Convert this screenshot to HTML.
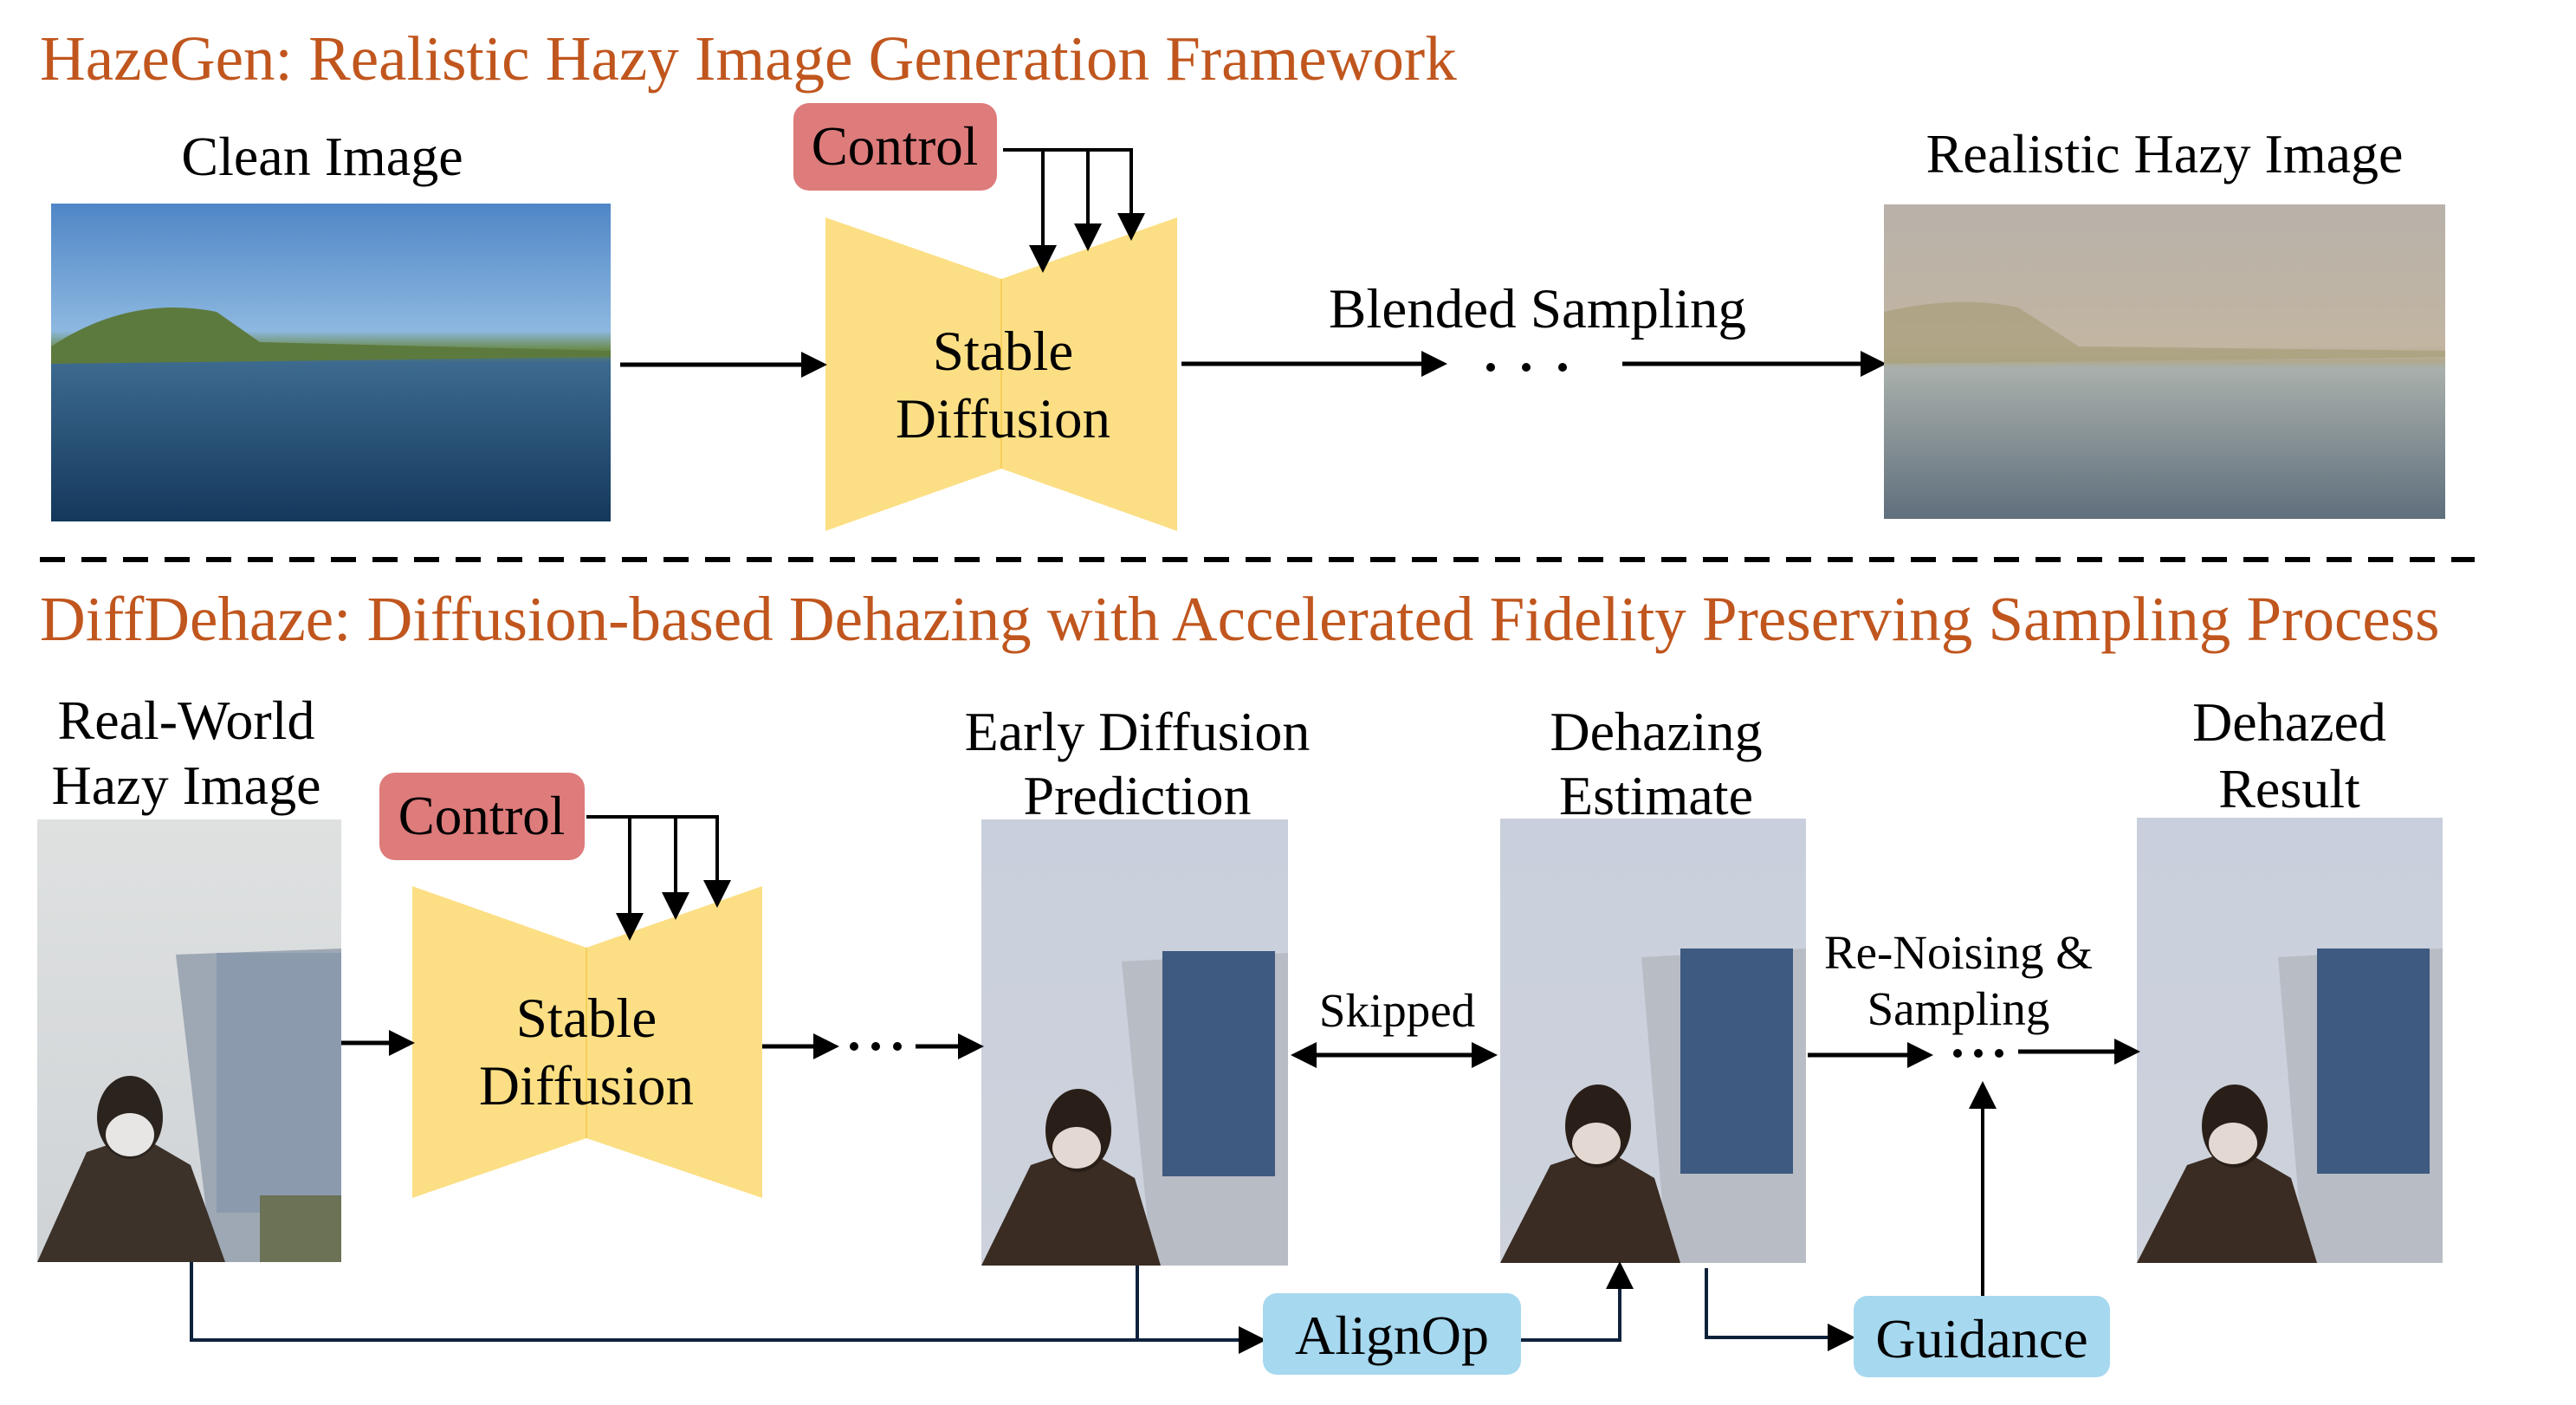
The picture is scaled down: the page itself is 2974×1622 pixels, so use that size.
<!DOCTYPE html>
<html><head><meta charset="utf-8"><style>
html,body{margin:0;padding:0;background:#fff;}
svg{display:block;}
text{font-family:"Liberation Serif",serif;fill:#000;}
</style></head><body>
<svg width="2974" height="1622" viewBox="0 0 2974 1622" xmlns="http://www.w3.org/2000/svg">
<defs>
<marker id="ah" markerWidth="6" markerHeight="6" refX="5" refY="3" orient="auto" markerUnits="strokeWidth">
<path d="M0,0 L6,3 L0,6 z" fill="#000"/></marker>
<marker id="ahs" markerWidth="8" markerHeight="8" refX="7" refY="4" orient="auto" markerUnits="strokeWidth">
<path d="M0,0 L8,4 L0,8 z" fill="#000"/></marker>
<marker id="ahr" markerWidth="6" markerHeight="6" refX="1" refY="3" orient="auto" markerUnits="strokeWidth">
<path d="M6,0 L0,3 L6,6 z" fill="#000"/></marker>
<linearGradient id="clean" x1="0" y1="0" x2="0" y2="1">
<stop offset="0" stop-color="#4f86c6"/><stop offset="0.4" stop-color="#8db8e0"/>
<stop offset="0.46" stop-color="#6a8a4a"/><stop offset="0.5" stop-color="#3d6a8f"/>
<stop offset="1" stop-color="#14385c"/></linearGradient>
<linearGradient id="hazy" x1="0" y1="0" x2="0" y2="1">
<stop offset="0" stop-color="#b8b2aa"/><stop offset="0.45" stop-color="#c2b5a2"/>
<stop offset="0.5" stop-color="#b0a98f"/><stop offset="0.52" stop-color="#a9b0ac"/>
<stop offset="1" stop-color="#5f6f7c"/></linearGradient>
<linearGradient id="sky1" x1="0" y1="0" x2="0" y2="1">
<stop offset="0" stop-color="#dfe1e1"/><stop offset="1" stop-color="#cfd3d6"/></linearGradient>
<linearGradient id="sky2" x1="0" y1="0" x2="0" y2="1">
<stop offset="0" stop-color="#c9cfdc"/><stop offset="1" stop-color="#cdd2dc"/></linearGradient>
</defs>

<!-- Titles -->
<text x="46" y="92" font-size="73" style="fill:#c0561e">HazeGen: Realistic Hazy Image Generation Framework</text>
<text x="46" y="739" font-size="73" style="fill:#c0561e">DiffDehaze: Diffusion-based Dehazing with Accelerated Fidelity Preserving Sampling Process</text>

<!-- Top row -->
<text x="372" y="202" font-size="64" text-anchor="middle">Clean Image</text>
<rect x="59" y="235" width="646" height="367" fill="url(#clean)"/>
<path d="M59,400 Q150,340 250,360 L300,395 L705,405 L705,412 L59,420 z" fill="#5d7a3e"/>

<rect x="916" y="119" width="235" height="101" rx="18" fill="#de7b7b"/>
<text x="1033" y="190" font-size="63" text-anchor="middle">Control</text>
<path d="M953,251 L1156,322 L1359,251 L1359,613 L1156,541 L953,613 z" fill="#fcdf85"/>
<line x1="1156" y1="322" x2="1156" y2="541" stroke="#f5cf5a" stroke-width="2"/>
<polyline points="1158,173 1306,173" fill="none" stroke="#000" stroke-width="4"/>
<line x1="1204" y1="173" x2="1204" y2="311" stroke="#000" stroke-width="4" marker-end="url(#ahs)"/>
<line x1="1256" y1="173" x2="1256" y2="286" stroke="#000" stroke-width="4" marker-end="url(#ahs)"/>
<line x1="1306" y1="171" x2="1306" y2="274" stroke="#000" stroke-width="4" marker-end="url(#ahs)"/>
<text x="1158" y="427" font-size="65" text-anchor="middle">Stable</text>
<text x="1158" y="505" font-size="65" text-anchor="middle">Diffusion</text>
<line x1="716" y1="421" x2="950" y2="421" stroke="#000" stroke-width="5" marker-end="url(#ah)"/>
<line x1="1364" y1="420" x2="1666" y2="420" stroke="#000" stroke-width="5" marker-end="url(#ah)"/>
<circle cx="1721" cy="424" r="5"/><circle cx="1762" cy="424" r="5"/><circle cx="1804" cy="424" r="5"/>
<line x1="1873" y1="420" x2="2173" y2="420" stroke="#000" stroke-width="5" marker-end="url(#ah)"/>
<text x="1775" y="378" font-size="65" text-anchor="middle">Blended Sampling</text>
<text x="2499" y="199" font-size="64" text-anchor="middle">Realistic Hazy Image</text>
<rect x="2175" y="236" width="648" height="363" fill="url(#hazy)"/>
<path d="M2175,360 Q2260,340 2330,355 L2400,400 L2823,405 L2823,412 L2175,420 z" fill="#a9a07c" opacity="0.75"/>

<!-- dashed separator -->
<line x1="46" y1="646" x2="2857" y2="646" stroke="#000" stroke-width="6" stroke-dasharray="29,19"/>

<!-- Bottom row labels -->
<text x="215" y="853" font-size="64" text-anchor="middle">Real-World</text>
<text x="215" y="928" font-size="64" text-anchor="middle">Hazy Image</text>
<text x="1313" y="866" font-size="64" text-anchor="middle">Early Diffusion</text>
<text x="1313" y="940" font-size="64" text-anchor="middle">Prediction</text>
<text x="1912" y="866" font-size="64" text-anchor="middle">Dehazing</text>
<text x="1912" y="940" font-size="64" text-anchor="middle">Estimate</text>
<text x="2643" y="855" font-size="64" text-anchor="middle">Dehazed</text>
<text x="2643" y="932" font-size="64" text-anchor="middle">Result</text>

<!-- Images (hazy input) -->
<rect x="43" y="946" width="351" height="511" fill="url(#sky1)"/>
<path d="M203,1102 L394,1095 L394,1457 L245,1457 z" fill="#9ea8b4"/>
<rect x="250" y="1100" width="144" height="300" fill="#8c9aae"/>
<path d="M43,1457 L100,1330 L160,1310 L220,1345 L260,1457 z" fill="#3c322a"/>
<ellipse cx="150" cy="1290" rx="38" ry="48" fill="#2a231e"/>
<ellipse cx="150" cy="1310" rx="28" ry="25" fill="#e8e6e4"/>
<rect x="300" y="1380" width="94" height="77" fill="#6b7256"/>

<!-- Early -->
<rect x="1133" y="946" width="354" height="515" fill="url(#sky2)"/>
<path d="M1295,1110 L1487,1100 L1487,1461 L1330,1461 z" fill="#b8bcc4"/>
<rect x="1342" y="1098" width="130" height="260" fill="#3e5a80"/>
<path d="M1133,1461 L1190,1345 L1250,1325 L1310,1360 L1340,1461 z" fill="#3a2c22"/>
<ellipse cx="1245" cy="1305" rx="38" ry="48" fill="#2a1f18"/>
<ellipse cx="1243" cy="1325" rx="28" ry="24" fill="#e4d8d2"/>

<!-- Dehazing estimate -->
<rect x="1732" y="945" width="353" height="513" fill="url(#sky2)"/>
<path d="M1895,1105 L2085,1095 L2085,1458 L1925,1458 z" fill="#b8bcc4"/>
<rect x="1940" y="1095" width="130" height="260" fill="#3e5a80"/>
<path d="M1732,1458 L1790,1345 L1850,1325 L1910,1360 L1940,1458 z" fill="#3a2c22"/>
<ellipse cx="1845" cy="1300" rx="38" ry="48" fill="#2a1f18"/>
<ellipse cx="1843" cy="1320" rx="28" ry="24" fill="#e4d8d2"/>

<!-- Dehazed result -->
<rect x="2467" y="944" width="353" height="514" fill="url(#sky2)"/>
<path d="M2630,1105 L2820,1095 L2820,1458 L2660,1458 z" fill="#b8bcc4"/>
<rect x="2675" y="1095" width="130" height="260" fill="#3e5a80"/>
<path d="M2467,1458 L2525,1345 L2585,1325 L2645,1360 L2675,1458 z" fill="#3a2c22"/>
<ellipse cx="2580" cy="1300" rx="38" ry="48" fill="#2a1f18"/>
<ellipse cx="2578" cy="1320" rx="28" ry="24" fill="#e4d8d2"/>

<!-- Control + SD bottom -->
<rect x="438" y="892" width="237" height="101" rx="18" fill="#de7b7b"/>
<text x="556" y="963" font-size="63" text-anchor="middle">Control</text>
<path d="M476,1023 L677,1094 L880,1023 L880,1383 L677,1314 L476,1383 z" fill="#fcdf85"/>
<line x1="677" y1="1094" x2="677" y2="1314" stroke="#f5cf5a" stroke-width="2"/>
<polyline points="677,943 828,943" fill="none" stroke="#000" stroke-width="4"/>
<line x1="727" y1="943" x2="727" y2="1082" stroke="#000" stroke-width="4" marker-end="url(#ahs)"/>
<line x1="780" y1="943" x2="780" y2="1058" stroke="#000" stroke-width="4" marker-end="url(#ahs)"/>
<line x1="828" y1="941" x2="828" y2="1044" stroke="#000" stroke-width="4" marker-end="url(#ahs)"/>
<text x="677" y="1197" font-size="65" text-anchor="middle">Stable</text>
<text x="677" y="1275" font-size="65" text-anchor="middle">Diffusion</text>

<line x1="394" y1="1204" x2="474" y2="1204" stroke="#000" stroke-width="5" marker-end="url(#ah)"/>
<line x1="880" y1="1208" x2="964" y2="1208" stroke="#000" stroke-width="5" marker-end="url(#ah)"/>
<circle cx="986" cy="1208" r="5"/><circle cx="1011" cy="1208" r="5"/><circle cx="1036" cy="1208" r="5"/>
<line x1="1057" y1="1208" x2="1131" y2="1208" stroke="#000" stroke-width="5" marker-end="url(#ah)"/>

<line x1="1495" y1="1218" x2="1724" y2="1218" stroke="#000" stroke-width="5" marker-start="url(#ahr)" marker-end="url(#ah)"/>
<text x="1613" y="1185" font-size="55" text-anchor="middle">Skipped</text>
<text x="2261" y="1118" font-size="55" text-anchor="middle">Re-Noising &amp;</text>
<text x="2261" y="1183" font-size="55" text-anchor="middle">Sampling</text>
<line x1="2087" y1="1218" x2="2227" y2="1218" stroke="#000" stroke-width="5" marker-end="url(#ah)"/>
<circle cx="2260" cy="1216" r="5"/><circle cx="2284" cy="1216" r="5"/><circle cx="2308" cy="1216" r="5"/>
<line x1="2330" y1="1214" x2="2466" y2="1214" stroke="#000" stroke-width="5" marker-end="url(#ah)"/>

<!-- bottom connectors -->
<polyline points="221,1457 221,1547 1458,1547" fill="none" stroke="#0f223c" stroke-width="4" marker-end="url(#ahs)"/>
<line x1="1313" y1="1461" x2="1313" y2="1547" stroke="#0f223c" stroke-width="4"/>
<rect x="1458" y="1493" width="298" height="94" rx="16" fill="#a6d8ef"/>
<text x="1607" y="1563" font-size="64" text-anchor="middle">AlignOp</text>
<polyline points="1756,1547 1870,1547 1870,1460" fill="none" stroke="#0f223c" stroke-width="4" marker-end="url(#ahs)"/>
<polyline points="1970,1464 1970,1544 2138,1544" fill="none" stroke="#0f223c" stroke-width="4" marker-end="url(#ahs)"/>
<rect x="2140" y="1496" width="296" height="94" rx="16" fill="#a6d8ef"/>
<text x="2288" y="1567" font-size="64" text-anchor="middle">Guidance</text>
<line x1="2289" y1="1496" x2="2289" y2="1252" stroke="#000" stroke-width="4" marker-end="url(#ahs)"/>
</svg>
</body></html>
